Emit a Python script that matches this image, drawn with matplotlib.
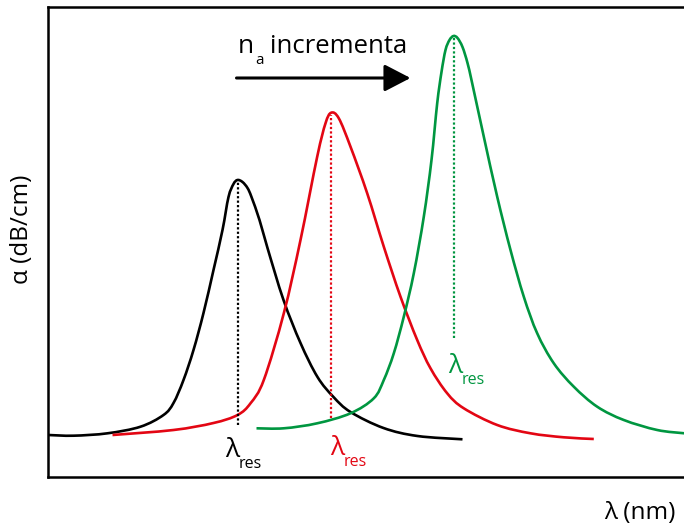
import matplotlib
matplotlib.use("Agg")
from matplotlib import pyplot as plt
from matplotlib.path import Path
from matplotlib.patches import PathPatch

#constantes
FUENTE = ["Open Sans", "DejaVu Sans"]
NEGRO = "#000000"
ROJO = "#e30613"
VERDE = "#009640"

#curvas de absorcion (lambda, alfa) en unidades arbitrarias
lambdaNegro = [1, 26, 60, 93, 116, 126, 136, 146, 156, 166, 175, 181, 186, 190,
               195, 200, 204, 212, 220, 236, 253, 270, 286, 303, 336, 370, 415]
alfaNegro = [42, 41.3, 43.7, 50.3, 62, 74, 97, 127, 164, 207, 247, 280, 293, 297,
             295, 289, 280, 257, 229, 177, 134, 100, 80, 65, 49, 41, 37.7]

lambdaRojo = [65, 126, 166, 190, 203, 216.3, 236.3, 253, 269.7, 278, 283.7, 291.3,
              303, 319.7, 336.3, 353, 369.7, 383, 399.7, 416.3, 449.7, 483, 516.3, 546.3]
alfaRojo = [42, 47, 54, 62, 73.7, 97, 163.7, 237, 320.3, 353.7, 364.3, 358.7,
            330.3, 283.7, 230.3, 180.3, 137, 108.7, 83.7, 68.7, 52, 43.7, 39.7, 38]

lambdaVerde = [209, 236.3, 269.7, 303, 326.3, 336.3, 346.3, 356.3, 366.3, 376.3, 384,
               389.7, 394, 398, 402, 406, 410, 415, 420, 424.7, 436.3, 449.7, 463,
               476.3, 489.7, 506.3, 526.3, 549.7, 576.3, 609.7, 637]
alfaVerde = [48.7, 48.7, 53.7, 63.7, 78.7, 97, 123.7, 160.3, 203.7, 260.3, 317,
             373.7, 405, 427, 437, 441, 439, 430, 414, 393.7, 340.3, 280.3, 227,
             180.3, 143.7, 113.7, 90.3, 70.3, 57, 47, 43.7]

#resonancias: posicion y altura de cada pico, y base de la linea punteada
lambdaRes = [190, 283.5, 406.5]
alfaRes = [297, 364.3, 441]
baseRes = [52, 59, 139]
colores = [NEGRO, ROJO, VERDE]

#posicion de las etiquetas lambda_res
etiquetaX = [178, 283, 401]
etiquetaY = [20, 22, 104]


def curvaSuave(xs, ys):
    #camino bezier que pasa por todos los puntos (catmull-rom)
    p = list(zip(xs, ys))
    vertices = [p[0]]
    codigos = [Path.MOVETO]
    for i in range(len(p) - 1):
        p0 = p[i - 1] if i > 0 else p[i]
        p1 = p[i]
        p2 = p[i + 1]
        p3 = p[i + 2] if i + 2 < len(p) else p[i + 1]
        c1 = (p1[0] + (p2[0] - p0[0]) / 6, p1[1] + (p2[1] - p0[1]) / 6)
        c2 = (p2[0] - (p3[0] - p1[0]) / 6, p2[1] - (p3[1] - p1[1]) / 6)
        vertices += [c1, c2, p2]
        codigos += [Path.CURVE4] * 3
    return Path(vertices, codigos)


#figura
fig = plt.figure(figsize=(6.84, 5.27), dpi=100)
ax = fig.add_axes([47.5 / 684, 50 / 527, 636.5 / 684, 470 / 527])
ax.set_xlim(0, 636.5)
ax.set_ylim(0, 470)

for lado in ["left", "bottom", "top"]:
    ax.spines[lado].set_linewidth(1.8)
ax.spines["right"].set_visible(False)
ax.set_xticks([])
ax.set_yticks([])

#curvas
for xs, ys, c in [(lambdaNegro, alfaNegro, NEGRO),
                  (lambdaRojo, alfaRojo, ROJO),
                  (lambdaVerde, alfaVerde, VERDE)]:
    ax.add_patch(PathPatch(curvaSuave(xs, ys), fill=False, edgecolor=c,
                           lw=1.9, capstyle="butt", joinstyle="round"))

#lineas punteadas de resonancia y etiquetas
for lr, ar, br, c, ex, ey in zip(lambdaRes, alfaRes, baseRes, colores, etiquetaX, etiquetaY):
    ax.plot([lr, lr], [br, ar - 2], color=c, lw=1.6, linestyle=(0, (1, 1)))
    ax.text(ex, ey, "λ", color=c, fontsize=19, family=FUENTE, ha="left", va="baseline")
    ax.text(ex + 13, ey - 11, "res", color=c, fontsize=11.5, family=FUENTE, ha="left", va="baseline")

#flecha y texto
ax.annotate("", xy=(363, 399), xytext=(189, 399),
            arrowprops=dict(arrowstyle="-|>,head_length=16,head_width=8.3",
                            mutation_scale=1, lw=2.2, color=NEGRO,
                            shrinkA=0, shrinkB=0))
ax.text(190, 424, "n", fontsize=19, family=FUENTE, ha="left", va="baseline")
ax.text(208, 413, "a", fontsize=11, family=FUENTE, ha="left", va="baseline")
ax.text(222, 424, "incrementa", fontsize=18.5, family=FUENTE, ha="left", va="baseline")

#ejes
fig.text(22 / 684, 1 - 229 / 527, "α (dB/cm)", rotation=90, fontsize=17.5,
         family=FUENTE, ha="center", va="center")
fig.text(640 / 684, 1 - 513 / 527, "λ (nm)", fontsize=17.5,
         family=FUENTE, ha="center", va="center")

fig.savefig("out.png", dpi=100)
